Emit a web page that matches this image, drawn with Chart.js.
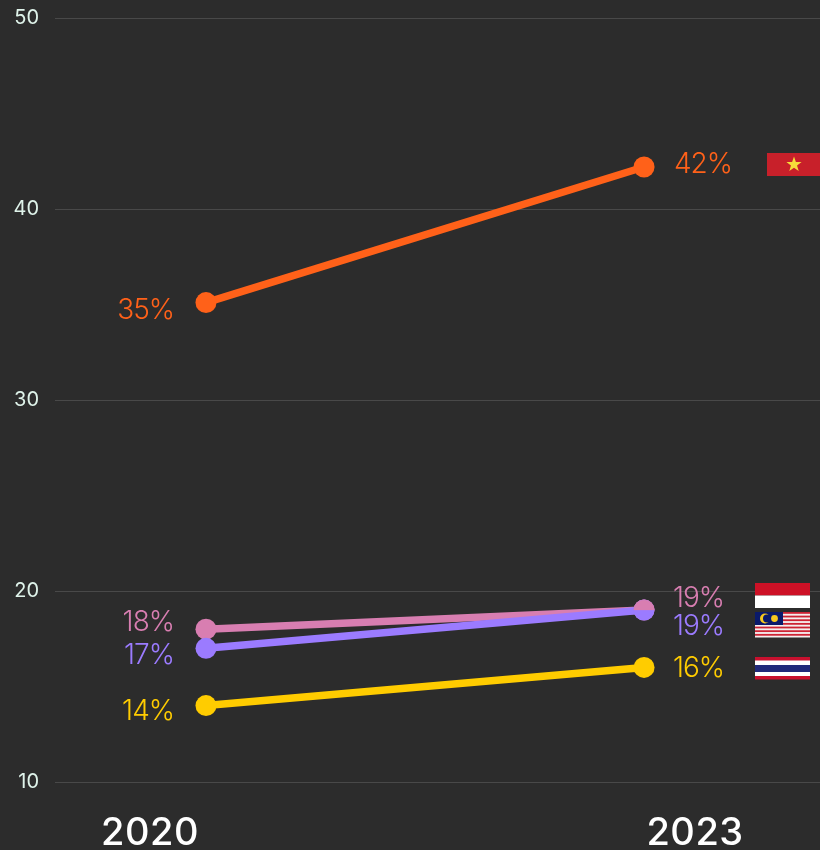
<!DOCTYPE html>
<html>
<head>
<meta charset="utf-8">
<title>Chart</title>
<script src="https://cdn.jsdelivr.net/npm/chart.js@4"></script>
<style>
    html, body { margin: 0; padding: 0; background: #2c2c2c; }
    #wrap { position: relative; width: 820px; height: 850px; overflow: hidden; }
</style>
</head>
<body>
<div id="wrap"><canvas id="slopeChart" width="820" height="850"></canvas></div>
<script>
const years = [2020, 2023];
const yTicks = [10, 20, 30, 40, 50];
const vietnam = [35.1, 42.2];
const indonesia = [18, 19];
const malaysia = [17, 19];
const thailand = [14, 16];

const FONT = 'Inter, "Open Sans", sans-serif';
const ORANGE = '#ff6119';
const PINK = '#d87eb1';
const PURPLE = '#9b7bff';
const YELLOW = '#ffcc00';

// label offsets from the point, [2020, 2023], as [dx, dy]
const labelOffsets = {
    Vietnam: [[-32, 8], [88, -2]],
    Indonesia: [[-32, -7], [80, -12]],
    Malaysia: [[-32, 7], [80, 16]],
    Thailand: [[-32, 6], [80, 1]]
};

function halfDot() {
    // the two lines end on the same value, dot is pink on top and purple below
    const c = document.createElement('canvas');
    c.width = 22;
    c.height = 22;
    const g = c.getContext('2d');
    g.fillStyle = PINK;
    g.beginPath();
    g.arc(11, 11, 10.5, Math.PI, 0);
    g.fill();
    return c;
}

function makeSeries(name, values, color, radius) {
    return {
        label: name,
        data: values.map((v, i) => ({ x: years[i], y: v })),
        borderColor: color,
        backgroundColor: color,
        borderWidth: 7.5,
        pointRadius: radius,
        pointHoverRadius: radius,
        pointBorderWidth: 0,
        tension: 0
    };
}

// first dataset is painted last, so the half dot sits over the purple line end
const topDot = makeSeries('IndonesiaEnd', indonesia, PINK, 10.5);
topDot.data = [topDot.data[1]];
topDot.showLine = false;
topDot.pointStyle = halfDot();

const valueLabels = {
    id: 'valueLabels',
    afterDatasetsDraw(chart) {
        const ctx = chart.ctx;
        ctx.save();
        ctx.font = '300 28px ' + FONT;
        ctx.letterSpacing = '-1px';
        ctx.textAlign = 'right';
        ctx.textBaseline = 'middle';
        chart.data.datasets.forEach((ds, d) => {
            if (!labelOffsets[ds.label]) return;
            chart.getDatasetMeta(d).data.forEach((pt, i) => {
                const off = labelOffsets[ds.label][i];
                ctx.fillStyle = ds.borderColor;
                ctx.fillText(Math.round(ds.data[i].y) + '%', pt.x + off[0], pt.y + off[1]);
            });
        });
        ctx.restore();
    }
};

const yearLabels = {
    id: 'yearLabels',
    afterDraw(chart) {
        const ctx = chart.ctx;
        const x = chart.scales.x;
        ctx.save();
        ctx.font = '500 38px ' + FONT;
        ctx.letterSpacing = '0.5px';
        ctx.fillStyle = '#ffffff';
        ctx.textAlign = 'center';
        ctx.textBaseline = 'middle';
        ctx.fillText(years[0], x.getPixelForValue(years[0]) - 56, 834);
        ctx.fillText(years[1], x.getPixelForValue(years[1]) + 51, 834);
        ctx.restore();
    }
};

function rect(ctx, color, x, y, w, h) {
    ctx.fillStyle = color;
    ctx.fillRect(x, y, w, h);
}

const flags = {
    id: 'flags',
    afterDraw(chart) {
        const ctx = chart.ctx;
        // Vietnam
        rect(ctx, '#c8202a', 767, 153, 53, 23);
        ctx.fillStyle = '#f7dc3a';
        ctx.beginPath();
        for (let i = 0; i < 10; i++) {
            const r = i % 2 === 0 ? 8 : 3.2;
            const a = -Math.PI / 2 + i * Math.PI / 5;
            ctx.lineTo(794 + r * Math.cos(a), 164.5 + r * Math.sin(a));
        }
        ctx.closePath();
        ctx.fill();
        // Indonesia
        rect(ctx, '#cd1126', 755, 583, 55, 12.5);
        rect(ctx, '#ffffff', 755, 595.5, 55, 12.5);
        // Malaysia
        rect(ctx, '#f4eeee', 755, 612, 55, 25.5);
        for (let i = 0; i < 7; i++) {
            rect(ctx, '#cc2233', 755, 612 + i * 3.65, 55, 1.8);
        }
        rect(ctx, '#0a1a6b', 755, 612, 28, 13);
        ctx.fillStyle = '#f7c81e';
        ctx.beginPath();
        ctx.arc(765, 618.5, 5, 0, Math.PI * 2);
        ctx.fill();
        ctx.fillStyle = '#0a1a6b';
        ctx.beginPath();
        ctx.arc(767, 618.5, 4, 0, Math.PI * 2);
        ctx.fill();
        ctx.fillStyle = '#f7c81e';
        ctx.beginPath();
        ctx.arc(774.5, 618.5, 3.4, 0, Math.PI * 2);
        ctx.fill();
        // Thailand
        rect(ctx, '#c8102e', 755, 657, 55, 22.5);
        rect(ctx, '#ffffff', 755, 660.5, 55, 15.5);
        rect(ctx, '#20297a', 755, 665, 55, 7);
    }
};

new Chart(document.getElementById('slopeChart').getContext('2d'), {
    type: 'line',
    data: {
        datasets: [
            topDot,
            makeSeries('Vietnam', vietnam, ORANGE, 10.5),
            makeSeries('Thailand', thailand, YELLOW, 10.5),
            makeSeries('Malaysia', malaysia, PURPLE, 10.5),
            makeSeries('Indonesia', indonesia, PINK, 10.5)
        ]
    },
    options: {
        responsive: false,
        animation: false,
        events: [],
        layout: { autoPadding: false, padding: { top: 18, bottom: 68, left: 0, right: 0 } },
        plugins: { legend: { display: false }, tooltip: { enabled: false } },
        scales: {
            x: {
                type: 'linear',
                display: false,
                min: 2018.966,
                max: 2024.205
            },
            y: {
                min: 10,
                max: 50,
                afterBuildTicks(axis) {
                    axis.ticks = yTicks.map(v => ({ value: v }));
                },
                afterFit(axis) {
                    axis.width = 55;
                    axis.paddingTop = 0;
                    axis.paddingBottom = 0;
                },
                border: { display: false },
                grid: { color: 'rgba(255,255,255,0.14)', lineWidth: 1, drawTicks: false },
                ticks: {
                    color: '#dff3ea',
                    padding: 16,
                    font: { family: FONT, size: 20, weight: '400' }
                }
            }
        }
    },
    plugins: [valueLabels, yearLabels, flags]
});
</script>
</body>
</html>
